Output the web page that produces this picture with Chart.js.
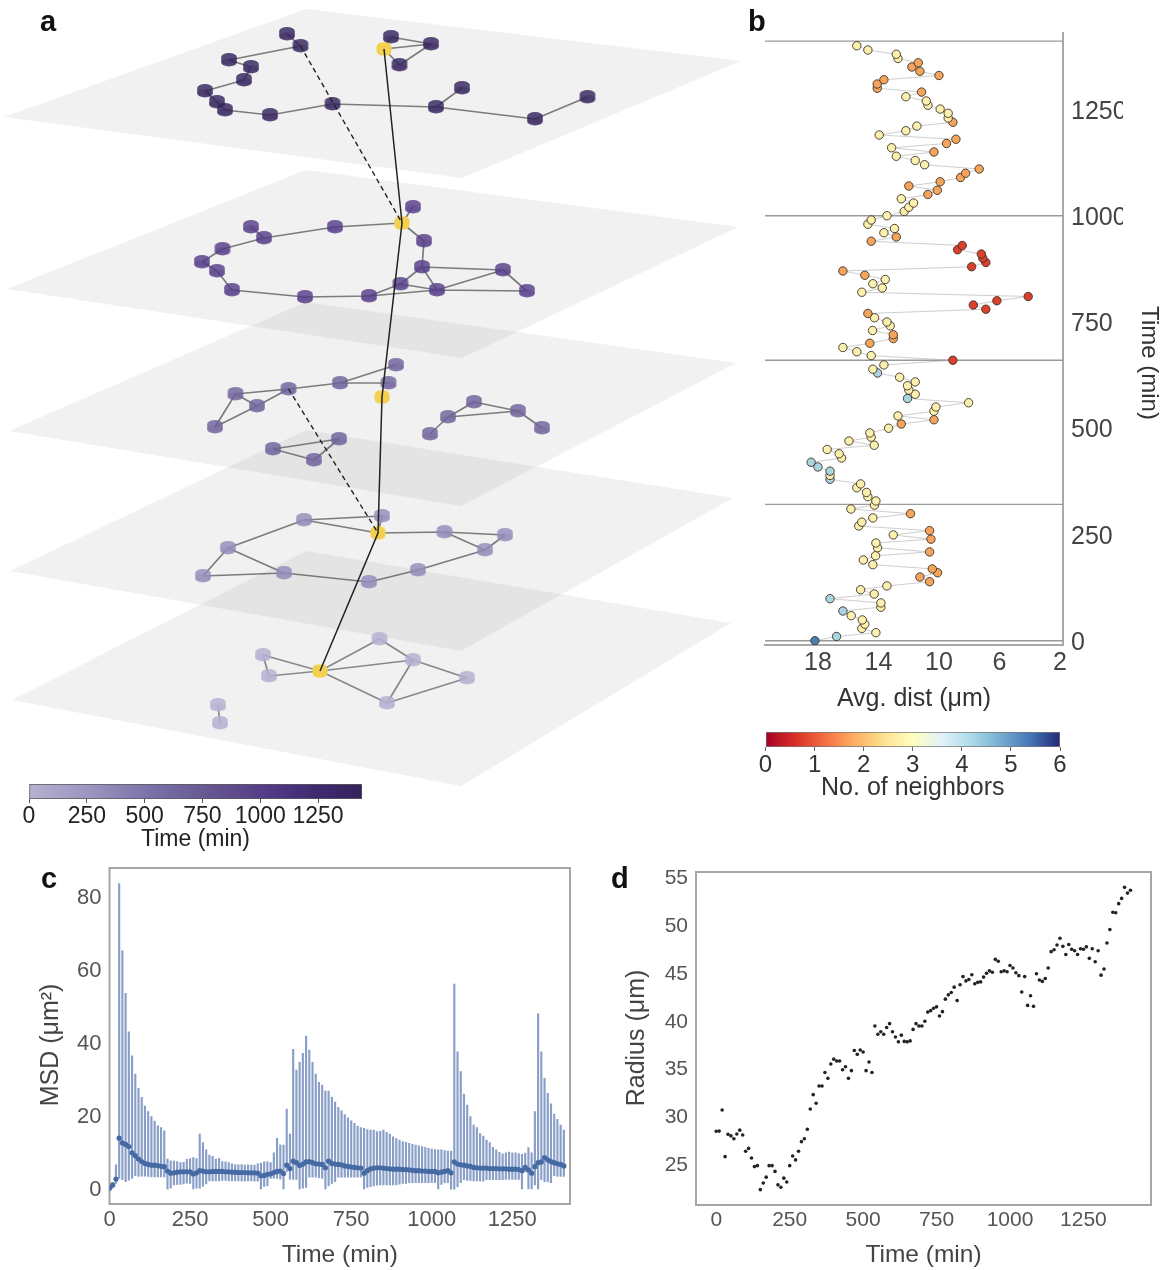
<!DOCTYPE html>
<html><head><meta charset="utf-8">
<script src="https://cdn.jsdelivr.net/npm/chart.js@4"></script>
<style>
html,body{margin:0;padding:0;background:#fff;width:1167px;height:1270px;overflow:hidden}
#page{position:relative;width:1167px;height:1270px;filter:blur(0.35px)}
canvas{position:absolute;display:block}
.tag{position:absolute;font:bold 29px "Liberation Sans",Arial,sans-serif;color:#111;line-height:1}
</style></head><body>
<div id="page">
<div class="tag" style="left:40px;top:7px">a</div>
<div class="tag" style="left:748px;top:7px">b</div>
<div class="tag" style="left:41px;top:864px">c</div>
<div class="tag" style="left:611px;top:864px">d</div>
</div>
<script>
/* ---------- panel a : network layers in projected drawing units ---------- */
const planes=[
 [[306,9],[741,61],[462,178],[4,117]],
 [[306,170],[738,227],[462,358],[7,289]],
 [[306,302],[736,363],[461,506],[9,431]],
 [[306,430],[733,498],[461,651],[10,571]],
 [[306,551],[731,623],[461,786],[12,700]]
];
const layerTimes=[1416,1005,665,326,5];
const hubs=[[384,49],[402,223],[382,397],[378,533],[320,671]];
const nodes5=[[287,34],[300.5,46],[229,60],[251,67],[244,80],[205,91],[217,102],[225,110],[270,115],[332.5,104],[436,107],[462,88],[535,119],[587.5,97],[391,37],[431,44],[399.5,65],[384,49]];
const edges5=[[0,1],[1,2],[2,3],[3,4],[4,5],[5,6],[6,7],[7,8],[8,9],[9,10],[10,11],[10,12],[12,13],[14,15],[15,16],[17,14],[17,15],[17,16]];
const nodes4=[[413,207],[335,227],[264,238],[251,227],[222.5,249],[202,262],[217,271],[232,290],[305,297],[369,296],[424,241],[422,267],[400.5,284],[437,290],[503,270],[527,291],[402,223]];
const edges4=[[16,0],[16,1],[1,2],[2,3],[2,4],[4,5],[5,6],[6,7],[7,8],[8,9],[9,12],[9,13],[13,15],[16,10],[10,11],[11,12],[11,13],[11,14],[12,13],[13,14],[14,15]];
const nodes3=[[396,365],[388.5,383],[340,383],[288.5,389],[235.5,394],[257,406],[215,427],[474,402],[448,417],[430,434],[518,411],[542,428],[339,439],[273,449],[314,460]];
const edges3=[[0,2],[1,2],[2,3],[3,4],[3,5],[4,5],[4,6],[5,6],[7,8],[8,9],[7,10],[8,10],[10,11],[12,13],[13,14],[14,12]];
const nodes2=[[382,516],[304,520],[444.5,532],[505,535],[485,550],[228,548],[203,576],[284,573],[369,582],[418,570],[378,533]];
const edges2=[[1,0],[1,10],[0,10],[10,2],[2,3],[2,4],[3,4],[4,9],[9,8],[8,7],[7,5],[7,6],[5,6],[5,1]];
const nodes1=[[379.5,639],[413,660],[467,678],[387,703],[263,655],[269,676],[218,705],[220,723],[320,671]];
const edges1=[[8,0],[8,1],[8,3],[8,4],[8,5],[4,5],[0,1],[1,2],[1,3],[2,3],[6,7]];
const dashedLinks=[[[300.5,46],[402,223]],[[288.5,389],[378,533]]];

const timeTicks=[0,250,500,750,1000,1250];
const timeBarRange=[0,1440];
const timeStops=[[0,'#b5b1d1'],[0.18,'#9b95c0'],[0.36,'#7a73a9'],[0.55,'#65558f'],[0.72,'#533a88'],[0.86,'#3f2a70'],[1,'#33235b']];

/* ---------- panel b ---------- */
const bTimes=[5,15,24,34,44,54,64,75,84,94,104,115,125,134,144,155,165,174,184,195,205,214,224,235,244,254,264,275,284,294,304,315,324,334,344,354,365,374,385,394,404,414,425,435,445,455,465,475,484,494,505,515,525,534,545,555,565,575,585,595,605,614,625,635,644,654,665,676,685,695,705,716,725,735,746,755,765,775,785,795,805,815,825,835,845,855,865,875,885,895,905,915,925,935,945,955,965,975,985,995,1005,1015,1025,1035,1045,1055,1065,1075,1085,1095,1105,1115,1125,1135,1145,1155,1165,1175,1185,1195,1205,1216,1225,1235,1246,1256,1265,1275,1285,1296,1305,1315,1325,1335,1345,1355,1365,1375,1385,1395,1405];
const bDist=[18.2,16.77,14.17,15.1,14.9,15.07,15.8,16.35,13.84,13.84,17.2,14.28,15.18,13.44,10.62,11.26,10.09,10.44,14.37,15.0,14.19,10.62,14.06,14.17,10.53,13.02,10.62,15.3,15.1,14.37,11.88,15.82,14.26,14.17,14.7,14.79,15.43,15.18,17.2,17.2,17.2,18.0,18.45,16.44,16.6,17.39,14.28,15.95,14.48,14.57,13.33,12.49,10.33,12.71,10.33,10.2,8.04,12.08,11.57,11.99,12.08,11.57,12.6,14.06,14.37,13.64,9.08,14.48,15.43,16.35,14.57,13.02,13.02,14.39,13.22,13.44,14.26,14.7,6.9,7.73,6.17,4.1,15.1,13.75,14.37,13.55,14.9,16.35,7.84,6.9,7.1,7.2,8.77,8.46,14.48,12.82,13.64,12.94,14.7,14.48,13.44,12.3,11.99,11.68,12.49,10.73,10.11,11.99,9.92,8.57,8.24,7.34,10.95,11.57,12.82,10.33,13.13,9.5,8.88,13.95,12.19,11.46,9.08,9.39,9.39,9.92,10.73,10.84,12.19,11.15,14.08,14.08,13.64,10.0,11.26,11.79,11.37,12.71,12.82,14.7,15.43];
const bNeighbors=[5,4,3,3,3,3,3,4,3,3,4,3,3,3,2,2,2,2,3,3,3,2,3,3,2,3,2,3,3,3,2,3,3,3,3,3,3,3,4,3,4,4,4,3,3,3,3,3,3,3,3,2,2,3,3,3,3,4,3,3,3,3,3,4,3,3,1,3,3,3,2,2,2,3,3,3,3,2,1,1,1,1,3,3,3,3,2,2,1,1,1,1,1,1,2,2,3,3,3,3,3,3,3,3,3,2,2,2,2,2,2,2,3,3,3,2,3,2,2,3,3,3,2,3,3,3,3,3,3,2,2,2,2,2,2,2,2,3,3,3,3];
const neighborColors=['#a50026','#dc3f2c','#f4a45c','#fbf0ae','#a8d5df','#4a7fad','#313695'];
const bLayerLines=[5,326,665,1005,1416];
const bXTicks=[18,14,10,6,2];
const bYTicks=[0,250,500,750,1000,1250];
const neighborTicks=[0,1,2,3,4,5,6];
const neighborStops=['#a50026','#d73027','#f46d43','#fdae61','#fee090','#ffffbf','#e0f3f8','#abd9e9','#74add1','#4575b4','#23297a'];

/* ---------- panels c and d ---------- */
const minutes=[0,10,20,30,40,50,60,70,80,90,100,110,120,130,140,150,160,170,180,190,200,210,220,230,240,250,260,270,280,290,300,310,320,330,340,350,360,370,380,390,400,410,420,430,440,450,460,470,480,490,500,510,520,530,540,550,560,570,580,590,600,610,620,630,640,650,660,670,680,690,700,710,720,730,740,750,760,770,780,790,800,810,820,830,840,850,860,870,880,890,900,910,920,930,940,950,960,970,980,990,1000,1010,1020,1030,1040,1050,1060,1070,1080,1090,1100,1110,1120,1130,1140,1150,1160,1170,1180,1190,1200,1210,1220,1230,1240,1250,1260,1270,1280,1290,1300,1310,1320,1330,1340,1350,1360,1370,1380,1390,1400,1410];
const msdMean=[0.5,1.4,3,14.2,12.9,12.5,11.9,10.2,9.4,8.5,7.8,7.3,7,6.8,6.8,6.7,6.5,6.4,5.2,4.6,4.7,4.9,5,5,5,5,4.4,4.7,5.3,5.2,5,5,5.1,5.1,5.1,5.1,5,5,4.9,4.9,4.8,4.8,4.8,4.7,4.7,4.7,4.6,3.9,4,4.3,4.4,4.8,5.1,5.2,4.5,6.8,5.9,7.9,7.5,6.7,7.1,7.7,7.8,7.5,7.2,7.1,7,6.1,7.9,7.3,7.1,7,6.9,6.6,6.5,6.3,6.2,6.1,6,4.6,5.3,5.8,6,6.1,6.1,6,5.9,5.8,5.7,5.7,5.7,5.6,5.6,5.5,5.4,5.3,5.3,5.2,5.2,5.1,5.1,5.1,4.7,4.9,5.1,5.3,4.7,7.7,7.1,6.9,6.8,6.6,6.5,6.2,6.1,6,6,6,5.9,5.9,5.9,5.8,5.8,5.8,5.7,5.7,5.7,5.6,5.3,6.2,5.5,4.6,6.4,7.5,7.7,8.9,8.3,7.8,7.5,7.2,7,6.6];
const msdUpper=[1,2,6.9,84,65.6,53.9,43.4,36.8,31.8,27.9,25.4,23,21.5,20.1,18.9,17.6,17.1,16.2,8.5,8,7.9,7.8,7.5,7.6,8.4,8.6,8.9,8.6,15.3,13,11,9.6,9.2,8.5,8.7,7.8,7.7,7.5,7.2,7,6.9,7,6.8,6.9,6.8,6.8,7.2,7.4,7.7,7.7,7.5,10.2,14.2,12.4,12.3,22.2,15.3,38.6,32.9,35,37.5,42.2,38.4,35,31.8,29.5,28.8,27.1,27.1,25.5,24.1,22.7,21.7,20.7,19.8,19,18.3,17.5,17.1,16.9,16.6,16.4,16.4,16,16.1,16.4,15.8,15.3,14.6,14.1,13.7,13.3,13.1,12.8,12.5,12.3,12.1,11.9,11.7,11.4,11.2,11.1,11,11,10.8,10.7,10.7,56.5,37.9,32.5,26.3,23.3,20.1,17.8,17.1,15.5,14.8,13.7,13,11.7,11,10.3,9.9,10.2,10.4,10.2,10.2,10,9.8,10.1,11.6,10.2,21.5,48.3,37.9,30.6,26.5,23.6,20.8,19.4,17.8,16.4];
const msdLower=[0,0.5,1.8,3.2,2.8,2.3,2.7,3.2,3.9,3.7,3.8,3.8,3.7,3.6,3.6,3.6,3.6,3.6,0.2,0.5,1.4,1.5,1.5,1.7,1.9,1.8,0.3,0.5,0.5,1,1.7,2.5,2.5,2.5,2.5,2.6,2.6,2.5,2.5,2.5,2.5,2.5,2.4,2.5,2.5,2.4,2.4,0.3,1,1.2,3.2,3.2,3.2,3,0.3,5,3,2.9,2.9,0.3,0.5,0.7,3.5,3.5,3.5,3.4,3.2,0.3,1.1,1.8,2.3,3.5,3.5,3.5,3.5,3.5,3.5,3.5,3.5,0.3,0.7,0.9,1.1,1.3,1.4,1.4,1.4,1.4,1.4,1.4,1.6,1.8,1.8,2,2,2,2,2,2,2,2,2,0.3,1.5,2,2,0.2,0.2,0.9,2,2.8,2.6,2.6,2.5,2.5,2.4,2.4,2.8,2.8,2.8,2.8,2.8,2.8,2.9,2.9,2.9,2.9,2.9,0.3,5,0.3,0.3,1.4,0.3,2.8,2.3,2.3,2,3.9,3.7,3.7,3.7];
const msdXTicks=[0,250,500,750,1000,1250];
const msdYTicks=[0,20,40,60,80];
const radius=[28.58,28.6,30.8,25.94,28.26,28.1,27.8,28.3,28.7,28.2,26.5,26.8,25.8,24.9,25,22.5,23.2,23.8,25,25,24.4,23,22.75,23.7,23.3,25,26,25.6,26.5,27.5,27.8,28.8,30.9,32.4,31.5,33.3,33.3,34.7,34.1,35.6,36.1,35.9,35.9,35,35.3,34.1,34.9,37,36.6,37.05,36.85,34.9,35.8,34.7,39.55,38.7,38.95,38.7,39.4,39.8,38.95,38.4,37.9,38.6,37.95,37.9,38,39.2,39.8,39.55,39.55,40.05,41,41.15,41.4,41.55,40.6,41.05,42.35,42.8,43.05,43.6,42.2,43.85,44.7,44.25,44.4,44.9,43.95,44.1,44.15,44.65,45.05,45.3,45.15,46.5,46.3,45.2,45.3,45.2,45.85,45.6,45.1,44.8,43.1,44.7,41.7,42.7,41.6,45,44.35,44.2,44.5,45.6,47.3,47.5,48,48.7,47.85,47,48.05,47.55,47.4,47,47.6,47.55,47.8,46.6,47.6,46.25,47.4,44.85,45.5,48.2,49.6,51.4,51.35,52.3,52.85,54,53.4,53.7];
const radiusXTicks=[0,250,500,750,1000,1250];
const radiusYTicks=[25,30,35,40,45,50,55];

/* ---------- helpers ---------- */
Chart.defaults.font.family='"Liberation Sans",Arial,sans-serif';
Chart.defaults.animation=false;
Chart.defaults.plugins.legend.display=false;
Chart.defaults.plugins.tooltip.enabled=false;
Chart.defaults.events=[];
Chart.defaults.layout.autoPadding=false;

const page=document.getElementById('page');
function canvas(l,t,w,h){const c=document.createElement('canvas');c.width=w;c.height=h;c.style.left=l+'px';c.style.top=t+'px';page.appendChild(c);return c;}
const fixSize=size=>s=>{if(s.isHorizontal())s.height=size;else s.width=size;s.paddingLeft=s.paddingRight=s.paddingTop=s.paddingBottom=0;};
const setTicks=list=>s=>{s.ticks=list.map(v=>({value:v}));};
const frame={id:'frame',beforeDatasetsDraw(ch){const a=ch.chartArea,c=ch.ctx;c.save();c.strokeStyle='#a6a6a6';c.lineWidth=2;c.strokeRect(a.left,a.top,a.right-a.left,a.bottom-a.top);c.restore();}};
const sideTitle=(text,x,y,rot,font,color)=>({id:'sideTitle',afterDraw(ch){const c=ch.ctx;c.save();c.translate(x,y);c.rotate(rot);c.font=font;c.fillStyle=color;c.textAlign='center';c.textBaseline='middle';c.fillText(text,0,0);c.restore();}});
const tickCfg=(size,color,pad)=>({font:{size},color,padding:pad,autoSkip:false,maxRotation:0,callback:v=>String(v)});
function lerpStop(stops,f){let i=0;while(i<stops.length-2&&f>stops[i+1][0])i++;const[a,ca]=stops[i],[b,cb]=stops[i+1];const t=Math.min(1,(f-a)/(b-a));const h=s=>[1,3,5].map(k=>parseInt(s.substr(k,2),16));const x=h(ca),y=h(cb);return x.map((v,k)=>Math.round(v+(y[k]-v)*t));}
function cylinder(rgb,alpha){const c=document.createElement('canvas');c.width=18;c.height=16;const g=c.getContext('2d');const col=a=>`rgba(${rgb[0]},${rgb[1]},${rgb[2]},${a})`;
 g.fillStyle=col(alpha);g.beginPath();g.ellipse(9,5,7.8,3.9,0,Math.PI,0);g.lineTo(16.8,10.5);g.ellipse(9,10.5,7.8,3.9,0,0,Math.PI);g.closePath();g.fill();
 g.fillStyle=col(0.3);g.beginPath();g.ellipse(9,9.4,7.6,3.2,0,0,Math.PI*2);g.fill();return c;}
function hubImage(){const c=document.createElement('canvas');c.width=18;c.height=16;const g=c.getContext('2d');g.fillStyle='#f3d04d';g.beginPath();g.roundRect(1.5,1.5,15,13,5);g.fill();return c;}
const pts=a=>a.map(p=>({x:p[0],y:p[1]}));
const segs=(n,e)=>e.flatMap(([i,j])=>[{x:n[i][0],y:n[i][1]},{x:n[j][0],y:n[j][1]},{x:null,y:null}]);

/* ---------- panel a ---------- */
(function(){
 const layers=[[nodes5,edges5,true],[nodes4,edges4,true],[nodes3,edges3,false],[nodes2,edges2,true],[nodes1,edges1,true]];
 const ds=[];
 planes.forEach(p=>{const d=pts(p);d.push({...d[0]});ds.push({data:d,order:30,fill:'shape',backgroundColor:'rgba(120,120,120,0.105)',borderWidth:0,pointRadius:0,tension:0});});
 layers.forEach(([n,e,hasHub],i)=>{
  const rgb=lerpStop(timeStops,layerTimes[i]/timeBarRange[1]);
  const list=hasHub?n.slice(0,-1):n;
  ds.push({data:segs(n,e),order:20,borderColor:i===4?'rgba(110,110,110,0.8)':'rgba(95,95,95,0.8)',borderWidth:1.7,pointRadius:0,spanGaps:false,tension:0});
  ds.push({data:pts(list),order:10,showLine:false,pointStyle:cylinder(rgb,0.82),pointRadius:6});
 });
 ds.push({data:pts(hubs),order:6,showLine:false,pointStyle:hubImage(),pointRadius:6});
 ds.push({data:pts(hubs),order:2,borderColor:'#222',borderWidth:1.5,pointRadius:0,tension:0});
 dashedLinks.forEach(l=>ds.push({data:pts(l),order:3,borderColor:'#222',borderWidth:1.4,borderDash:[5,3.5],pointRadius:0,tension:0}));
 new Chart(canvas(0,0,750,860),{type:'line',data:{datasets:ds},options:{responsive:false,layout:{padding:0,autoPadding:false},
  scales:{x:{type:'linear',display:false,min:0,max:750},y:{type:'linear',display:false,min:0,max:860,reverse:true}}}});
})();

/* time colour bar */
new Chart(canvas(0,770,420,90),{type:'bar',data:{labels:['Time (min)'],datasets:[{data:[timeBarRange],barPercentage:1,categoryPercentage:1,borderWidth:1,borderColor:'#5a5a5a',borderSkipped:false,
 backgroundColor:c=>{const a=c.chart.chartArea;if(!a)return timeStops[0][1];const g=c.chart.ctx.createLinearGradient(a.left,0,a.right,0);timeStops.forEach(s=>g.addColorStop(s[0],s[1]));return g;}}]},
 options:{responsive:false,indexAxis:'y',layout:{padding:{left:29,right:58,top:14,bottom:7},autoPadding:false},
 scales:{y:{display:false},x:{type:'linear',min:timeBarRange[0],max:timeBarRange[1],afterBuildTicks:setTicks(timeTicks),afterFit:fixSize(54),
  grid:{drawOnChartArea:false,drawTicks:true,tickLength:4,color:'#555'},border:{display:false},
  ticks:tickCfg(23,'#222',0),title:{display:true,text:'Time (min)',font:{size:23},color:'#222',padding:0}}}}});

/* ---------- panel b ---------- */
(function(){
 const lines=bLayerLines.flatMap(t=>[{x:21.5,y:t},{x:1.8,y:t},{x:null,y:null}]);
 new Chart(canvas(750,0,417,720),{type:'line',data:{datasets:[
  {data:bTimes.map((t,i)=>({x:bDist[i],y:t})),order:1,borderColor:'rgba(165,165,165,0.55)',borderWidth:1,tension:0,pointRadius:4.2,pointBorderColor:'#3a3226',pointBorderWidth:0.9,pointBackgroundColor:bNeighbors.map(n=>neighborColors[n])},
  {data:lines,order:2,borderColor:'#9a9a9a',borderWidth:1.3,pointRadius:0,tension:0}]},
  options:{responsive:false,layout:{padding:{left:15,right:44,top:33,bottom:6},autoPadding:false},
  scales:{x:{type:'linear',reverse:true,min:1.8,max:21.5,afterBuildTicks:setTicks(bXTicks),afterFit:fixSize(69),grid:{display:false,drawTicks:false},border:{display:true,color:'#a8a8a8',width:2},
    ticks:tickCfg(25,'#444',3),title:{display:true,text:'Avg. dist (μm)',font:{size:25},color:'#333',padding:0}},
   y:{type:'linear',position:'right',min:-5,max:1435,afterBuildTicks:setTicks(bYTicks),afterFit:fixSize(60),grid:{display:false,drawTicks:false},border:{display:true,color:'#a8a8a8',width:2},
    ticks:tickCfg(25,'#444',8)}}},
  plugins:[sideTitle('Time (min)',399,363,Math.PI/2,'24px "Liberation Sans",Arial,sans-serif','#333')]});
})();

/* neighbours colour bar */
new Chart(canvas(750,725,417,85),{type:'bar',data:{labels:['No. of neighbors'],datasets:[{data:[[neighborTicks[0],neighborTicks[6]]],barPercentage:1,categoryPercentage:1,borderWidth:1,borderColor:'#777',borderSkipped:false,
 backgroundColor:c=>{const a=c.chart.chartArea;if(!a)return neighborStops[0];const g=c.chart.ctx.createLinearGradient(a.left,0,a.right,0);neighborStops.forEach((s,i)=>g.addColorStop(i/(neighborStops.length-1),s));return g;}}]},
 options:{responsive:false,indexAxis:'y',layout:{padding:{left:15.5,right:107,top:7,bottom:7},autoPadding:false},
 scales:{y:{display:false},x:{type:'linear',min:0,max:6,afterBuildTicks:setTicks(neighborTicks),afterFit:fixSize(56),
  grid:{drawOnChartArea:false,drawTicks:true,tickLength:4,color:'#666'},border:{display:false},
  ticks:tickCfg(24,'#333',0),title:{display:true,text:'No. of neighbors',font:{size:25},color:'#333',padding:0}}}}});

/* ---------- panel c ---------- */
new Chart(canvas(0,860,590,410),{type:'bar',data:{datasets:[
 {type:'line',data:minutes.map((t,i)=>({x:t,y:msdMean[i]})),order:1,showLine:false,pointRadius:2.6,pointBackgroundColor:'#456aa3',pointBorderWidth:0},
 {type:'bar',data:minutes.map((t,i)=>({x:t,y:[msdLower[i],msdUpper[i]]})),order:2,backgroundColor:'#8a9fc7',barThickness:1.5}]},
 options:{responsive:false,layout:{padding:{left:39.5,right:20,top:8,bottom:0},autoPadding:false},
 scales:{x:{type:'linear',offset:false,min:0,max:1429,afterBuildTicks:setTicks(msdXTicks),afterFit:fixSize(66),grid:{display:false,drawTicks:false},border:{display:false},
   ticks:tickCfg(22,'#555',3),title:{display:true,text:'Time (min)',font:{size:24.5},color:'#444',padding:0}},
  y:{type:'linear',min:-3.84,max:88.3,afterBuildTicks:setTicks(msdYTicks),afterFit:fixSize(70),grid:{display:false,drawTicks:false},border:{display:false},ticks:tickCfg(22,'#555',8)}}},
 plugins:[frame,sideTitle('MSD (μm²)',51,185,-Math.PI/2,'25px "Liberation Sans",Arial,sans-serif','#444')]});

/* ---------- panel d ---------- */
new Chart(canvas(600,860,567,410),{type:'line',data:{datasets:[
 {data:minutes.map((t,i)=>({x:t,y:radius[i]})),showLine:false,pointRadius:1.8,pointBackgroundColor:'#222',pointBorderWidth:0}]},
 options:{responsive:false,layout:{padding:{left:26,right:16,top:12,bottom:0},autoPadding:false},
 scales:{x:{type:'linear',min:-69,max:1480,afterBuildTicks:setTicks(radiusXTicks),afterFit:fixSize(65),grid:{display:false,drawTicks:false},border:{display:false},
   ticks:tickCfg(21,'#555',2.4),title:{display:true,text:'Time (min)',font:{size:24.5},color:'#444',padding:0}},
  y:{type:'linear',min:20.9,max:55.6,afterBuildTicks:setTicks(radiusYTicks),afterFit:fixSize(70),grid:{display:false,drawTicks:false},border:{display:false},ticks:tickCfg(21,'#555',8)}}},
 plugins:[frame,sideTitle('Radius (μm)',37,178,-Math.PI/2,'25px "Liberation Sans",Arial,sans-serif','#444')]});
</script>
</body></html>
